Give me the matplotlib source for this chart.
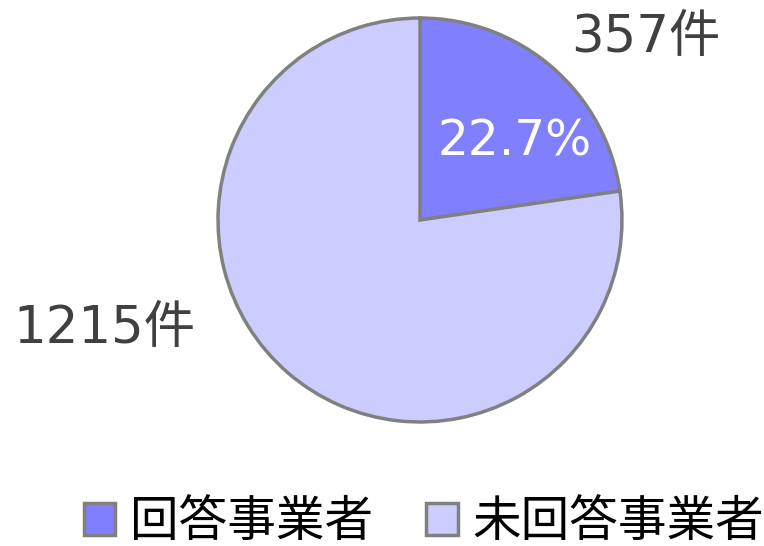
import matplotlib
matplotlib.use('Agg')
import matplotlib.pyplot as plt
from matplotlib.patches import Patch

plt.rcParams['font.family'] = ['DejaVu Sans', 'Noto Sans CJK JP']

# data
labels = ['回答事業者', '未回答事業者']
counts = [357, 1215]
colors = ['#8080FF', '#CCCCFF']

fig = plt.figure(figsize=(7.64, 5.46), dpi=100)
ax = fig.add_axes([216 / 764, 1 - 424 / 546, 408 / 764, 408 / 546])

wedges, _ = ax.pie(counts, colors=colors, startangle=90, counterclock=False,
                   radius=1.0, wedgeprops=dict(edgecolor='#808080', linewidth=2.5))
ax.set_xlim(-1.01, 1.01)
ax.set_ylim(-1.01, 1.01)
ax.set_aspect('equal')
ax.axis('off')

pct = counts[0] / sum(counts) * 100
ax.text(0.47, 0.39, '{:.1f}%'.format(pct), color='white', fontsize=35,
        ha='center', va='center')
ax.text(1.12, 0.90, '{}件'.format(counts[0]), color='#404040', fontsize=37,
        ha='center', va='center')
ax.text(-1.56, -0.54, '{}件'.format(counts[1]), color='#404040', fontsize=37,
        ha='center', va='center')

handles = [Patch(facecolor=c, edgecolor='#808080', linewidth=2.5) for c in colors]
fig.legend(handles, labels, loc='center', bbox_to_anchor=(0.555, 0.044), ncol=2,
           frameon=False, fontsize=35, handlelength=0.65, handleheight=0.65,
           handletextpad=0.3, columnspacing=1.1)

fig.savefig('out.png', dpi=100)
